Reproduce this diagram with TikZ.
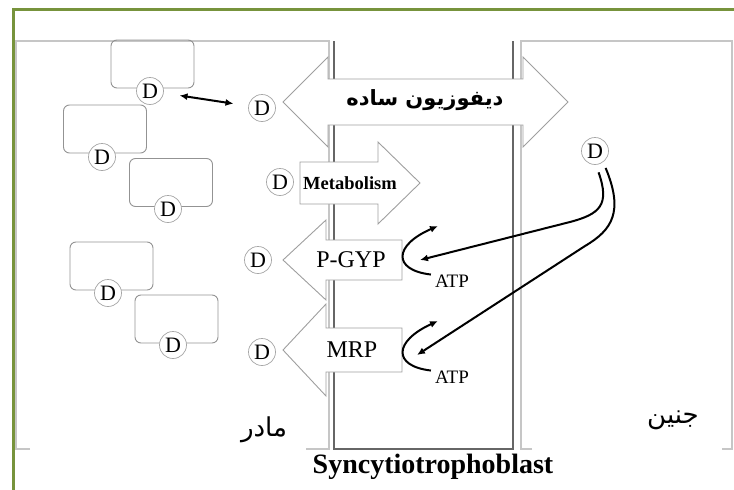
\documentclass[tikz,border=0pt]{standalone}
\usepackage{fontspec}
\setmainfont{Liberation Serif}
\newfontfamily\arabicfont[Script=Arabic]{DejaVu Sans}
\TeXXeTstate=1
\usetikzlibrary{arrows.meta,positioning,calc}

\definecolor{frameGreen}{RGB}{119,147,60}

\begin{document}
\begin{tikzpicture}[x=1pt,y=-1pt,
        every node/.style={inner sep=0pt},
        drugCircle/.style={
                draw=gray!70, shape=circle, fill=white,
                minimum size=27pt, line width=0.7pt,
                font=\fontsize{22}{22}\selectfont
            },
        cellBox/.style={
                draw=gray!85, rounded corners=6pt, line width=0.9pt,
                minimum width=83pt, minimum height=48pt
            },
        regionLine/.style={draw=gray!45, line width=1.3pt},
        membraneLine/.style={draw=gray!80!black, line width=1.7pt},
        pumpArrow/.style={draw=gray!75, fill=white, line width=0.9pt},
        flowArrow/.style={line width=2pt, -{Latex[length=8pt,width=7pt]}},
        atpLabel/.style={font=\fontsize{19}{19}\selectfont}
    ]
    \useasboundingbox (0,0) rectangle (734,490);

    % frame
    \draw[frameGreen, line width=3pt] (13,490) -- (13,9) -- (734,9);

    % mother / trophoblast / fetus
    \draw[regionLine] (30,449) -- (16,449) -- (16,41) -- (329,41) -- (329,449) -- (306,449);
    \draw[regionLine] (532,449) -- (521,449) -- (521,41) -- (732,41) -- (732,449) -- (722,449);
    \draw[membraneLine] (334,41) -- (334,449) -- (513,449) -- (513,41);

    % cells on the mother side
    \node[cellBox] (cell1) at (152.5,64) {};
    \node[cellBox] (cell2) at (105,129) {};
    \node[cellBox] (cell3) at (171,182.5) {};
    \node[cellBox] (cell4) at (111.5,266) {};
    \node[cellBox] (cell5) at (176.5,319) {};
    \node[drugCircle] (d1) at (150,91) {D};
    \node[drugCircle] (d2) at (102,157) {D};
    \node[drugCircle] (d3) at (168,209) {D};
    \node[drugCircle] (d4) at (108,293) {D};
    \node[drugCircle] (d5) at (173,345) {D};

    % transport arrows
    \filldraw[pumpArrow] (283,102) -- (328,57) -- (328,79) -- (523,79) -- (523,57) -- (568,102)
        -- (523,147) -- (523,125) -- (328,125) -- (328,147) -- cycle;
    \filldraw[pumpArrow] (300,162) -- (378,162) -- (378,142) -- (420,183) -- (378,224)
        -- (378,204) -- (300,204) -- cycle;
    \filldraw[pumpArrow] (283,260) -- (326,220) -- (326,240) -- (402,240) -- (402,280)
        -- (326,280) -- (326,300) -- cycle;
    \filldraw[pumpArrow] (283,350) -- (326,304) -- (326,328) -- (402,328) -- (402,372)
        -- (326,372) -- (326,396) -- cycle;

    \node[font=\arabicfont\bfseries\fontsize{21}{21}\selectfont] (diffusion) at (425,100) {\beginR دیفوزیون ساده\endR};
    \node[font=\bfseries\fontsize{18.5}{18.5}\selectfont] (metab) at (350,183) {Metabolism};
    \node[font=\fontsize{24}{24}\selectfont] (pgyp) at (351,260) {P-GYP};
    \node[font=\fontsize{24}{24}\selectfont] (mrp) at (352,350) {MRP};
    \coordinate (pgypPort) at (420,260);
    \coordinate (mrpPort) at (417,355);

    \node[drugCircle] (dDiff) at (262,108) {D};
    \node[drugCircle] (dMetab) at (280,182) {D};
    \node[drugCircle] (dPgyp) at (258,260) {D};
    \node[drugCircle] (dMrp) at (262,352) {D};
    \node[drugCircle] (dFetus) at (595,151) {D};

    \node[atpLabel] (atp1) at (452,281) {ATP};
    \node[atpLabel] (atp2) at (452,377) {ATP};
    \coordinate (atpOut1) at (438,226);
    \coordinate (atpOut2) at (438,321);

    % connectors
    \draw[line width=2pt, {Latex[length=8pt,width=7pt]}-{Latex[length=8pt,width=7pt]},
        shorten <=16pt, shorten >=15pt] (d1) -- (dDiff);
    \draw[flowArrow] ([xshift=-4pt]atp1.north west) .. controls (392,270) and (394,245) .. (atpOut1);
    \draw[flowArrow] ([xshift=-4pt]atp2.north west) .. controls (392,366) and (394,341) .. (atpOut2);
    \draw[flowArrow] ([yshift=-8pt]dFetus.-75) .. controls (610,205) and (600,214) .. (570,222) -- (pgypPort);
    \draw[flowArrow] ([yshift=-8pt]dFetus.-40) .. controls (624,212) and (612,230) .. (585,246) -- (mrpPort);

    % labels
    \node[font=\arabicfont\fontsize{26}{26}\selectfont] (mother) at (264,430) {\beginR مادر\endR};
    \node[font=\arabicfont\fontsize{26}{26}\selectfont] (fetus) at (673,420) {\beginR جنین\endR};
    \node[font=\bfseries\fontsize{28}{28}\selectfont] (syncytio) at (433,467) {Syncytiotrophoblast};
\end{tikzpicture}
\end{document}
